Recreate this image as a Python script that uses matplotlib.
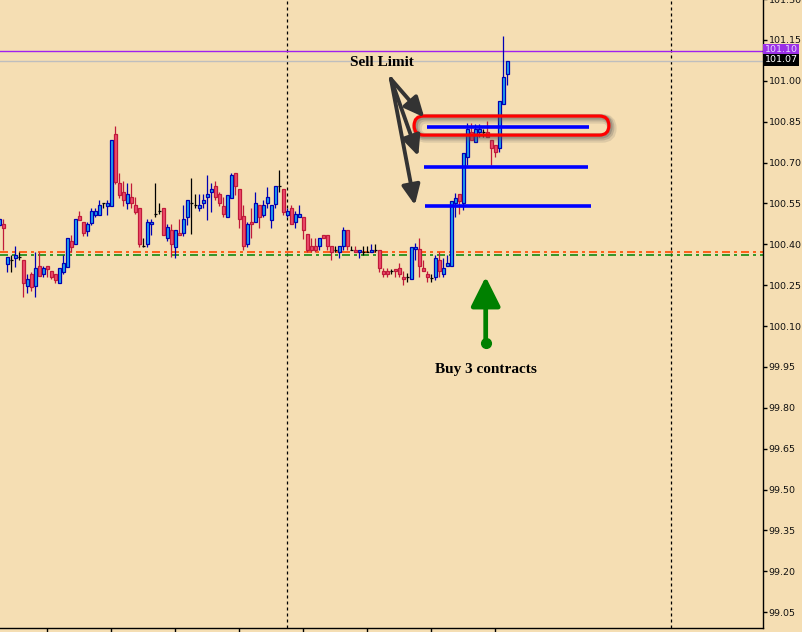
import matplotlib.pyplot as plt
import numpy as np
from matplotlib.patches import FancyBboxPatch

# OHLC values, one entry per bar
opens = [100.471, 100.474, 100.329, 100.341, 100.351, 100.354, 100.341, 100.248, 100.291, 100.248,
         100.321, 100.290, 100.321, 100.301, 100.291, 100.259, 100.300, 100.318, 100.412, 100.400,
         100.503, 100.482, 100.450, 100.480, 100.509, 100.509, 100.551, 100.542, 100.542, 100.805,
         100.626, 100.592, 100.551, 100.574, 100.543, 100.532, 100.393, 100.400, 100.474, 100.510,
         100.522, 100.532, 100.422, 100.452, 100.392, 100.442, 100.441, 100.502, 100.552, 100.543,
         100.532, 100.551, 100.573, 100.591, 100.613, 100.584, 100.542, 100.502, 100.571, 100.661,
         100.602, 100.503, 100.400, 100.482, 100.481, 100.543, 100.509, 100.551, 100.491, 100.549,
         100.613, 100.602, 100.509, 100.532, 100.481, 100.502, 100.502, 100.439, 100.393, 100.393,
         100.393, 100.433, 100.433, 100.393, 100.381, 100.371, 100.393, 100.452, 100.381, 100.381,
         100.371, 100.371, 100.371, 100.371, 100.381, 100.381, 100.301, 100.301, 100.301, 100.311,
         100.312, 100.282, 100.282, 100.272, 100.382, 100.382, 100.312, 100.290, 100.275, 100.282,
         100.343, 100.290, 100.321, 100.321, 100.551, 100.585, 100.551, 100.722, 100.814, 100.774,
         100.814, 100.814, 100.814, 100.782, 100.764, 100.752, 100.915, 101.024]
highs = [100.495, 100.493, 100.354, 100.361, 100.394, 100.371, 100.341, 100.291, 100.300, 100.372,
         100.372, 100.321, 100.321, 100.301, 100.291, 100.312, 100.361, 100.423, 100.434, 100.493,
         100.522, 100.482, 100.482, 100.532, 100.532, 100.563, 100.551, 100.563, 100.782, 100.834,
         100.661, 100.633, 100.624, 100.625, 100.574, 100.532, 100.423, 100.493, 100.493, 100.625,
         100.552, 100.532, 100.475, 100.475, 100.452, 100.493, 100.545, 100.562, 100.642, 100.584,
         100.584, 100.584, 100.653, 100.625, 100.633, 100.592, 100.574, 100.582, 100.663, 100.663,
         100.602, 100.543, 100.482, 100.532, 100.591, 100.543, 100.563, 100.612, 100.543, 100.613,
         100.673, 100.602, 100.532, 100.543, 100.521, 100.543, 100.502, 100.439, 100.422, 100.422,
         100.422, 100.433, 100.433, 100.393, 100.393, 100.393, 100.464, 100.452, 100.393, 100.393,
         100.381, 100.393, 100.393, 100.400, 100.400, 100.381, 100.315, 100.315, 100.311, 100.311,
         100.330, 100.301, 100.294, 100.392, 100.404, 100.422, 100.343, 100.301, 100.290, 100.361,
         100.373, 100.351, 100.361, 100.560, 100.587, 100.585, 100.734, 100.844, 100.844, 100.841,
         100.841, 100.825, 100.853, 100.782, 100.764, 100.926, 101.165, 101.074]
lows = [100.465, 100.379, 100.300, 100.300, 100.318, 100.343, 100.208, 100.220, 100.230, 100.208,
        100.283, 100.281, 100.281, 100.272, 100.259, 100.259, 100.291, 100.318, 100.373, 100.400,
        100.491, 100.431, 100.431, 100.471, 100.499, 100.509, 100.532, 100.509, 100.542, 100.622,
        100.571, 100.542, 100.530, 100.532, 100.510, 100.392, 100.392, 100.392, 100.433, 100.502,
        100.510, 100.433, 100.414, 100.352, 100.351, 100.433, 100.431, 100.472, 100.439, 100.532,
        100.522, 100.532, 100.491, 100.520, 100.562, 100.542, 100.502, 100.502, 100.571, 100.582,
        100.461, 100.380, 100.392, 100.422, 100.481, 100.461, 100.502, 100.532, 100.461, 100.532,
        100.591, 100.508, 100.502, 100.474, 100.461, 100.502, 100.421, 100.371, 100.371, 100.371,
        100.381, 100.422, 100.381, 100.342, 100.371, 100.351, 100.381, 100.381, 100.381, 100.371,
        100.351, 100.361, 100.371, 100.371, 100.371, 100.300, 100.282, 100.282, 100.290, 100.282,
        100.282, 100.250, 100.262, 100.272, 100.343, 100.282, 100.301, 100.262, 100.262, 100.269,
        100.282, 100.282, 100.321, 100.321, 100.502, 100.512, 100.526, 100.691, 100.783, 100.774,
        100.793, 100.793, 100.793, 100.691, 100.722, 100.740, 100.915, 100.985]
closes = [100.493, 100.461, 100.354, 100.341, 100.361, 100.354, 100.259, 100.272, 100.242, 100.313,
          100.283, 100.312, 100.311, 100.281, 100.270, 100.312, 100.330, 100.423, 100.392, 100.493,
          100.491, 100.441, 100.474, 100.522, 100.522, 100.545, 100.551, 100.552, 100.782, 100.629,
          100.582, 100.562, 100.584, 100.551, 100.520, 100.400, 100.393, 100.481, 100.482, 100.510,
          100.522, 100.433, 100.462, 100.401, 100.452, 100.433, 100.492, 100.562, 100.552, 100.543,
          100.543, 100.562, 100.584, 100.602, 100.573, 100.551, 100.510, 100.582, 100.653, 100.613,
          100.492, 100.393, 100.474, 100.474, 100.551, 100.502, 100.543, 100.573, 100.543, 100.613,
          100.613, 100.520, 100.521, 100.474, 100.510, 100.510, 100.452, 100.381, 100.381, 100.381,
          100.422, 100.422, 100.393, 100.371, 100.381, 100.393, 100.452, 100.393, 100.381, 100.371,
          100.381, 100.371, 100.371, 100.381, 100.381, 100.312, 100.290, 100.290, 100.301, 100.301,
          100.290, 100.272, 100.282, 100.392, 100.392, 100.321, 100.301, 100.282, 100.275, 100.351,
          100.301, 100.312, 100.330, 100.560, 100.571, 100.560, 100.734, 100.822, 100.783, 100.825,
          100.825, 100.814, 100.793, 100.752, 100.740, 100.926, 101.013, 101.074]

y_ticks = np.round(np.arange(99.05, 101.31, 0.15), 2)
session_lines = [72, 168]
level_red = 100.372
level_green = 100.361
bid_line = 101.110
last_price = 101.074
tag_texts = ["101.10", "101.07"]
sell_limits = [100.830, 100.684, 100.541]
sell_spans = [(107.0, 147.5), (106.2, 147.2), (106.5, 148.0)]

bg = "#F5DEB3"
up_fill, up_edge = "#1EA8F0", "#0000B4"
dn_fill, dn_edge = "#EE4D6E", "#C01A3A"

fig = plt.figure(figsize=(8.03, 6.32), dpi=100, facecolor=bg)
ax = fig.add_axes([0, 4 / 632, 763 / 803, 628.875 / 632])
ax.set_facecolor(bg)

o = np.array(opens)
h = np.array(highs)
l = np.array(lows)
c = np.array(closes)
x = np.arange(len(o))

up = c > o
dn = c < o
doji = c == o

# wicks
ax.vlines(x[up], l[up], h[up], color=up_edge, lw=0.9, zorder=3)
ax.vlines(x[dn], l[dn], h[dn], color=dn_edge, lw=0.9, zorder=3)
ax.vlines(x[doji], l[doji], h[doji], color="black", lw=0.9, zorder=3)

# bodies
ax.bar(x[up], c[up] - o[up], bottom=o[up], width=0.75, color=up_fill,
       edgecolor=up_edge, lw=0.9, zorder=4)
ax.bar(x[dn], o[dn] - c[dn], bottom=c[dn], width=0.75, color=dn_fill,
       edgecolor=dn_edge, lw=0.9, zorder=4)
ax.hlines(o[doji], x[doji] - 0.4, x[doji] + 0.4, color="black", lw=0.9, zorder=4)

# session separators and price levels
for s in session_lines:
    ax.axvline(s, color="black", lw=0.9, ls=(0, (2.4, 2.4)), zorder=2)
ax.axhline(level_red, color="#FF4A00", lw=1.2, ls=(0, (4.8, 2.4, 1.8, 2.4)), zorder=2)
ax.axhline(level_green, color="#138A13", lw=1.2, ls=(0, (4.8, 2.4, 1.8, 2.4)), zorder=2)
ax.axhline(bid_line, color="#A020F0", lw=1, zorder=2)
ax.axhline(last_price, color="#BEBEBE", lw=1, zorder=2)

# sell limit orders
for lvl, (x0, x1) in zip(sell_limits, sell_spans):
    ax.hlines(lvl, x0, x1, color="#0000FF", lw=2.6, zorder=6)

# red pill around the first limit, with a soft shadow
pill_x, pill_y, pill_w, pill_h = 103.7, 100.801, 48.7, 0.070
asp = (pill_h / 2) / 2.375
for dx, dy, col, lw, al in [(0.7, -0.010, "#555555", 7, 0.15), (0.5, -0.007, "#555555", 5, 0.22),
                            (0.3, -0.004, "#555555", 3.5, 0.3)]:
    ax.add_patch(FancyBboxPatch((pill_x + dx, pill_y + dy), pill_w, pill_h,
                                boxstyle="round,pad=0,rounding_size=2.375",
                                mutation_aspect=asp, fc="none", ec=col, lw=lw, alpha=al, zorder=5))
ax.add_patch(FancyBboxPatch((pill_x, pill_y), pill_w, pill_h,
                            boxstyle="round,pad=0,rounding_size=2.375",
                            mutation_aspect=asp, fc="none", ec="#FF0000", lw=2.3, zorder=7))

# annotations
ax.text(95.7, 101.069, "Sell Limit", family="Liberation Serif", weight="bold",
        fontsize=11, ha="center", va="center", zorder=8)
arrow_start = (97.9, 101.007)
for tip in [(106.25, 100.866), (104.75, 100.724), (103.9, 100.544)]:
    ax.annotate("", xy=tip, xytext=arrow_start,
                arrowprops=dict(arrowstyle="-|>,head_length=1.2,head_width=0.55",
                                mutation_scale=10, color="#333333", lw=2.8,
                                shrinkA=0, shrinkB=0), zorder=8)

ax.annotate("", xy=(121.6, 100.281), xytext=(121.6, 100.037),
            arrowprops=dict(arrowstyle="-|>,head_length=1.8,head_width=0.9",
                            mutation_scale=10, color="#008000", lw=3.4,
                            shrinkA=0, shrinkB=0), zorder=8)
ax.plot([121.6], [100.037], "o", color="#008000", ms=7, zorder=8)
ax.text(121.55, 99.939, "Buy 3 contracts", family="Liberation Serif", weight="bold",
        fontsize=11, ha="center", va="center", zorder=8)

# axes
ax.set_xlim(0.175, 190.925)
ax.set_ylim(98.9922, 101.30)
ax.set_xticks(np.arange(12, 125, 16))
ax.tick_params(axis="x", direction="out", length=4, width=1, labelbottom=False)
ax.yaxis.tick_right()
ax.set_yticks(y_ticks)
ax.set_yticklabels(["%.2f" % v for v in y_ticks])
ax.tick_params(axis="y", direction="out", length=3, width=1, pad=1,
               labelsize=6.8, labelcolor="#111111")
for lab in ax.get_yticklabels():
    lab.set_family("DejaVu Sans")
ax.spines["left"].set_visible(False)
ax.spines["top"].set_visible(False)
ax.spines["right"].set_linewidth(1)
ax.spines["bottom"].set_linewidth(1)

# price tags on the right scale
tr = ax.get_yaxis_transform()
ax.text(1.002, 101.115, tag_texts[0], transform=tr, fontsize=6.8, color="#E8D8FF",
        va="center", ha="left", clip_on=False, zorder=9,
        bbox=dict(boxstyle="square,pad=0.15", fc="#9B30E6", ec="none"))
ax.text(1.002, 101.077, tag_texts[1], transform=tr, fontsize=6.8, color="white",
        va="center", ha="left", clip_on=False, zorder=10,
        bbox=dict(boxstyle="square,pad=0.15", fc="black", ec="none"))

fig.savefig("out.png", dpi=100, facecolor=bg)
